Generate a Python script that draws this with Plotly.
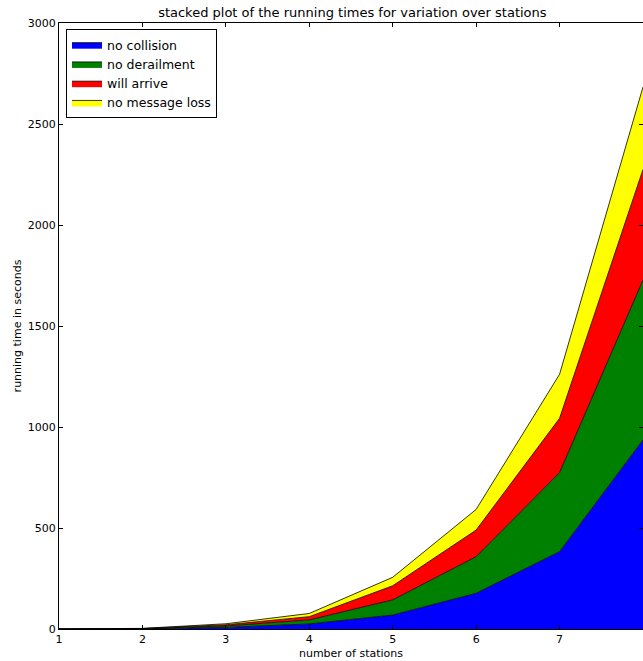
import plotly.graph_objects as go

stations = [1, 2, 3, 4, 5, 6, 7, 8]
no_collision = [0.1, 1, 8, 25, 69, 177, 383, 936]
no_derailment = [0.1, 1, 7, 20, 75, 181, 391, 792]
will_arrive = [0.1, 0.5, 6, 16, 70, 132, 269, 547]
no_message_loss = [0.1, 0.5, 5, 16, 42, 102, 218, 408]

series = [
    ("no collision", no_collision, "#0000ff"),
    ("no derailment", no_derailment, "#008000"),
    ("will arrive", will_arrive, "#ff0000"),
    ("no message loss", no_message_loss, "#ffff00"),
]

fig = go.Figure()
for name, vals, col in series:
    fig.add_trace(go.Scatter(
        x=stations, y=vals, name=name, mode="lines",
        stackgroup="one", fillcolor=col,
        line=dict(color="black", width=0.8),
    ))

font = "DejaVu Sans"
fig.update_layout(
    width=643, height=661,
    margin=dict(l=59, r=0, t=23, b=32),
    paper_bgcolor="white", plot_bgcolor="white",
    font=dict(family=font, size=11, color="black"),
    title=dict(text="stacked plot of the running times for variation over stations",
               x=0.548, xanchor="center", y=0.988, yanchor="top",
               font=dict(family=font, size=13, color="black")),
    showlegend=True,
    legend=dict(x=0.012, y=0.99, xanchor="left", yanchor="top",
                bgcolor="white", bordercolor="black", borderwidth=1,
                font=dict(family=font, size=12.5), traceorder="normal",
                itemwidth=30),
)
fig.update_xaxes(
    range=[1, 8], tickmode="linear", tick0=1, dtick=1,
    showgrid=False, zeroline=False, showline=True, linecolor="black", linewidth=1,
    mirror="ticks", ticks="inside", ticklen=4, tickcolor="black",
    title=dict(text="number of stations", font=dict(size=11), standoff=4),
)
fig.update_yaxes(
    range=[0, 3000], tickmode="linear", tick0=0, dtick=500,
    showgrid=False, zeroline=False, showline=True, linecolor="black", linewidth=1,
    mirror="ticks", ticks="inside", ticklen=4, tickcolor="black",
    title=dict(text="running time in seconds", font=dict(size=11), standoff=3),
)
fig.write_html("out.html", config={"displayModeBar": False},
               post_script="document.body.style.margin='0';document.body.style.overflow='hidden';")
